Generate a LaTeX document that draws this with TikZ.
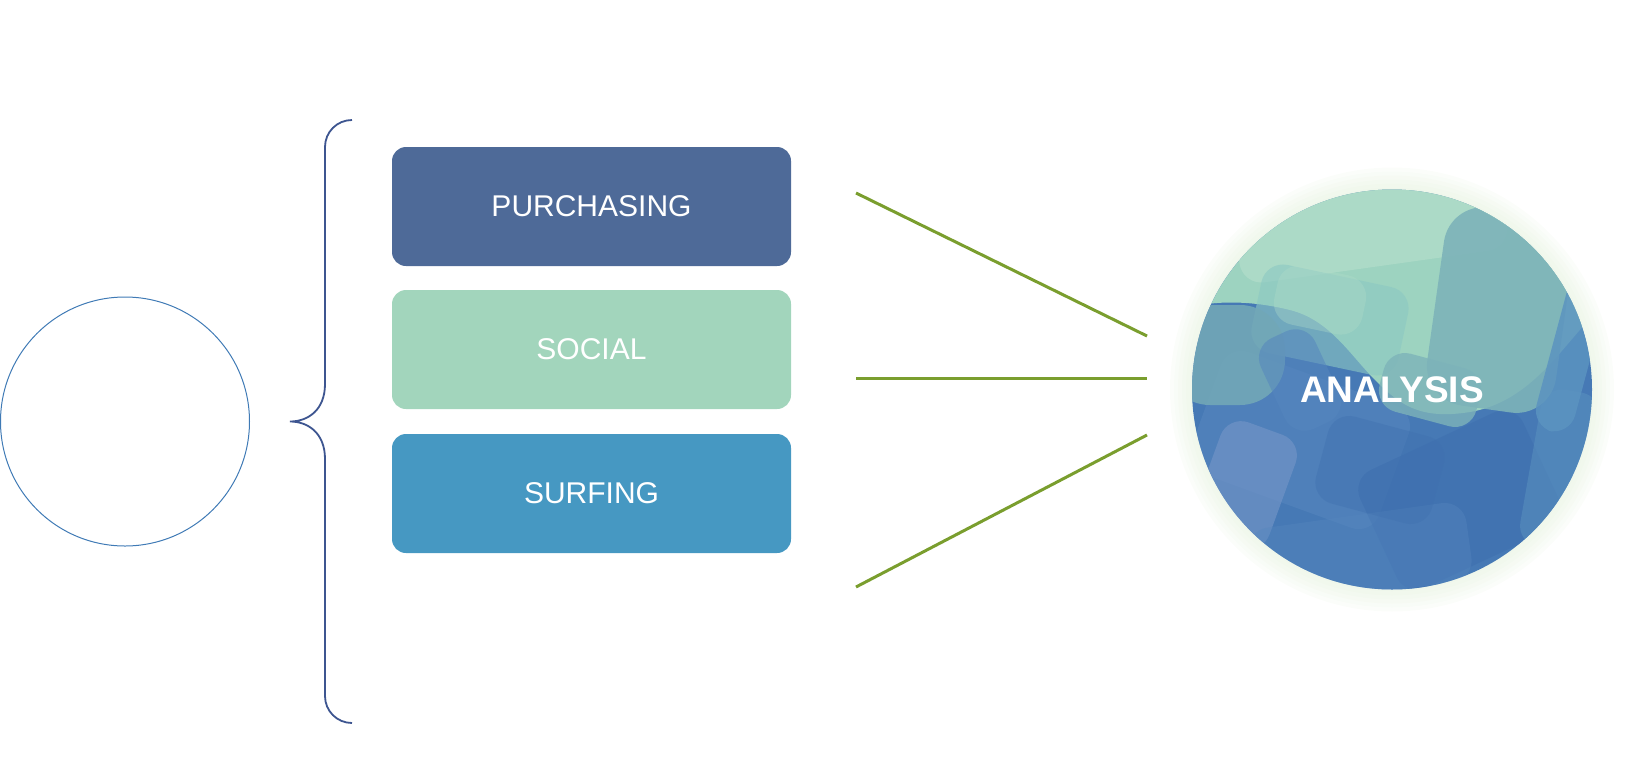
\documentclass[tikz,border=0pt]{standalone}
\usepackage{fontspec}
\setmainfont{Liberation Sans}
\definecolor{purchc}{HTML}{4E6A98}
\definecolor{socialc}{HTML}{A2D5BC}
\definecolor{surfc}{HTML}{4698C2}
\definecolor{bracec}{HTML}{3D5590}
\definecolor{ringc}{HTML}{3F7AB5}
\definecolor{linkc}{HTML}{7A9E2E}
\definecolor{glowc}{HTML}{E2F0DA}
\definecolor{blueA}{HTML}{4679B5}
\definecolor{blueB}{HTML}{5586BE}
\definecolor{blueC}{HTML}{7093C6}
\definecolor{blueD}{HTML}{3F70AF}
\definecolor{blueE}{HTML}{5B93C0}
\definecolor{tealA}{HTML}{72A7B7}
\definecolor{tealB}{HTML}{7DB3B9}
\definecolor{greenA}{HTML}{9DD3C0}
\definecolor{greenB}{HTML}{B0DCC9}
\definecolor{greenC}{HTML}{8CC8C3}
\begin{document}
\begin{tikzpicture}[x=1pt,y=-1pt,
  catbox/.style={rounded corners=14pt, minimum width=399pt, minimum height=119pt,
    inner sep=0pt, text=white, font=\fontsize{30}{34}\selectfont},
  link/.style={draw=linkc, line width=3pt},
  blob/.style={rounded corners=22pt, inner sep=0pt, draw=none}]
\useasboundingbox (0,0) rectangle (1642,780);

% left ring
\node[circle, draw=ringc, line width=1pt, minimum size=249pt, inner sep=0pt] (ring) at (125,421.5) {};

% brace
\coordinate (btop) at (352,120);
\coordinate (btip) at (290,421.5);
\coordinate (bbot) at (352,723);
\draw[bracec, line width=1.8pt]
  (btop) .. controls (337,120) and (325,132) .. (325,147)
  -- (325,384) .. controls (325,410) and (308,421.5) .. (btip)
  .. controls (308,421.5) and (325,433) .. (325,459)
  -- (325,696) .. controls (325,711) and (337,723) .. (bbot);

% boxes
\node[catbox, fill=purchc] (purch) at (591.5,206.5) {PURCHASING};
\node[catbox, fill=socialc] (social) at (591.5,349.5) {SOCIAL};
\node[catbox, fill=surfc] (surf) at (591.5,493.5) {SURFING};

% connectors
\coordinate (l1s) at (856,193);   \coordinate (l1e) at (1147,336);
\coordinate (l2s) at (856,378);   \coordinate (l2e) at (1147,378);
\coordinate (l3s) at (856,587);   \coordinate (l3e) at (1147,435);
\draw[link] (l1s) -- (l1e);
\draw[link] (l2s) -- (l2e);
\draw[link] (l3s) -- (l3e);

% glow
\foreach \r in {222,218,...,202}
  \fill[glowc, fill opacity=0.12] (1392,389.5) circle[radius=\r];

% analysis circle
\node[circle, minimum size=400pt, inner sep=0pt] (ana) at (1392,389.5) {};
\begin{scope}
  \clip (ana.center) circle[radius=200];
  \fill[blueA] (1180,180) rectangle (1610,600);
  % lower variations
  \node[blob, fill=blueB, fill opacity=0.6, minimum width=200pt, minimum height=130pt, rotate=-20] (d1) at (1300,440) {};
  \node[blob, fill=blueC, fill opacity=0.7, minimum width=80pt, minimum height=120pt, rotate=-20] (d2) at (1245,485) {};
  \node[blob, fill=blueD, fill opacity=0.6, minimum width=180pt, minimum height=130pt, rotate=25] (d3) at (1460,500) {};
  \node[blob, fill=blueB, fill opacity=0.4, minimum width=220pt, minimum height=80pt, rotate=8] (d4) at (1360,555) {};
  \node[blob, fill=blueD, fill opacity=0.4, minimum width=120pt, minimum height=90pt, rotate=-15] (d5) at (1380,470) {};
  \node[blob, fill=blueE, fill opacity=0.5, minimum width=60pt, minimum height=160pt, rotate=-10] (d6) at (1560,470) {};
  % green / teal upper mass
  \fill[greenA] (1180,170) -- (1610,170) -- (1610,300)
    .. controls (1570,330) and (1540,400) .. (1470,412)
    .. controls (1420,420) and (1400,405) .. (1375,380)
    .. controls (1350,355) and (1330,320) .. (1290,310)
    .. controls (1250,300) and (1210,300) .. (1180,310) -- cycle;
  \node[blob, fill=greenB, fill opacity=0.8, minimum width=270pt, minimum height=90pt, rotate=8] (g1) at (1370,222) {};
  \node[blob, fill=greenC, fill opacity=0.6, minimum width=150pt, minimum height=90pt, rotate=-12] (g2) at (1330,320) {};
  \node[blob, fill=greenB, fill opacity=0.35, minimum width=90pt, minimum height=60pt, rotate=-12] (g3) at (1320,300) {};
  \node[blob, rounded corners=40pt, fill=tealB, fill opacity=0.9, minimum width=130pt, minimum height=200pt, rotate=-8] (t1) at (1500,310) {};
  \node[blob, fill=tealB, fill opacity=0.8, minimum width=100pt, minimum height=60pt, rotate=-15] (t2) at (1430,390) {};
  \node[blob, rounded corners=45pt, fill=tealA, fill opacity=0.9, minimum width=120pt, minimum height=100pt] (t3) at (1225,355) {};
  \node[blob, fill=blueB, fill opacity=0.55, minimum width=60pt, minimum height=100pt, rotate=25] (t4) at (1300,380) {};
  \node[blob, fill=blueE, fill opacity=0.85, minimum width=40pt, minimum height=230pt, rotate=-15] (t5) at (1580,320) {};
\end{scope}
\node[text=white, font=\bfseries\fontsize{37}{40}\selectfont, inner sep=0pt] (anatext) at (ana.center) {ANALYSIS};
\end{tikzpicture}
\end{document}
